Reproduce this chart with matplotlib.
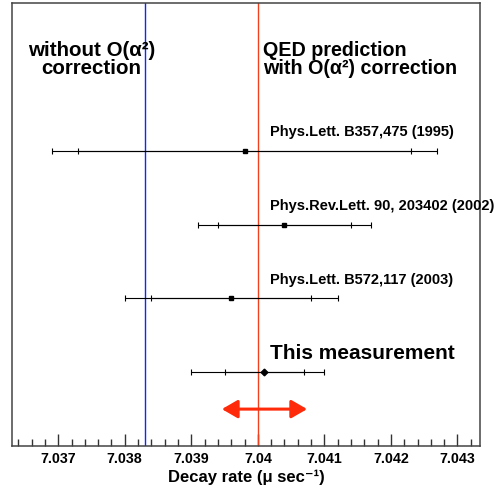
import matplotlib
matplotlib.use("Agg")
import matplotlib.pyplot as plt
from matplotlib.ticker import MultipleLocator

plt.rcParams['font.family'] = ['Liberation Sans', 'DejaVu Sans']

# Data
labels = ["Phys.Lett. B357,475 (1995)", "Phys.Rev.Lett. 90, 203402 (2002)",
          "Phys.Lett. B572,117 (2003)", "This measurement"]
values = [7.0398, 7.0404, 7.0396, 7.0401]
stat_err = [0.0025, 0.0010, 0.0012, 0.0006]
tot_err_lo = [0.0029, 0.0013, 0.0016, 0.0011]
tot_err_hi = [0.0029, 0.0013, 0.0016, 0.0009]
ypos = [4, 3, 2, 1]
markers = ['s', 's', 's', 'D']

no_corr = 7.0383      # without O(alpha^2) correction
qed_pred = 7.0400     # QED prediction with O(alpha^2)
goal_center = 7.0401
goal_half = 0.00064

tick_vals = [7.037, 7.038, 7.039, 7.040, 7.041, 7.042, 7.043]
tick_labels = ["7.037", "7.038", "7.039", "7.04", "7.041", "7.042", "7.043"]

fig = plt.figure(figsize=(5.03, 4.93), dpi=100)
ax = fig.add_axes([0.0239, 0.0953, 0.9304, 0.8986])
ax.set_xlim(7.036306, 7.043339)
ax.set_ylim(0, 6)

ax.axvline(no_corr, color='#0a28ff', lw=1.0)
ax.axvline(qed_pred, color='#f0401e', lw=1.0)

for v, y, s, lo, hi, m, lab in zip(values, ypos, stat_err, tot_err_lo, tot_err_hi, markers, labels):
    ax.errorbar([v], [y], xerr=[[lo], [hi]], fmt='none', ecolor='black',
                elinewidth=0.8, capsize=2.2, capthick=0.8)
    ax.errorbar([v], [y], xerr=[[s], [s]], fmt='none', ecolor='black',
                elinewidth=0.8, capsize=2.2, capthick=0.8)
    ax.plot([v], [y], marker=m, color='black', ms=3.4, ls='none')
    fs = 15 if lab == "This measurement" else 10.5
    ax.text(7.04018, y + 0.25, lab, fontsize=fs, fontweight='bold',
            ha='left', va='center', clip_on=False)

ax.annotate('', xy=(goal_center - goal_half, 0.5), xytext=(goal_center + goal_half, 0.5),
            arrowprops=dict(arrowstyle='<|-|>,head_length=0.95,head_width=0.55',
                            color='#ff2a0a', lw=2.2, mutation_scale=10,
                            shrinkA=0, shrinkB=0))

ax.text(7.0375, 5.23, "without O(α²)\ncorrection", fontsize=14.8,
        fontweight='bold', ha='center', va='center', linespacing=0.95)
ax.text(7.04008, 5.23, "QED prediction\nwith O(α²) correction", fontsize=14.2,
        fontweight='bold', ha='left', va='center', linespacing=0.95)

ax.set_xticks(tick_vals)
ax.set_xticklabels(tick_labels, fontsize=10.3, fontweight='bold')
ax.xaxis.set_minor_locator(MultipleLocator(0.0002))
ax.tick_params(axis='x', which='major', direction='in', length=9, width=1, color='#333333', pad=4)
ax.tick_params(axis='x', which='minor', direction='in', length=4.8, width=1, color='#333333')
ax.set_yticks([])
for sp in ax.spines.values():
    sp.set_color('#444444')
    sp.set_linewidth(1.1)
ax.set_xlabel("Decay rate (μ sec⁻¹)", fontsize=12, fontweight='bold', labelpad=3)

fig.savefig("out.png", dpi=100)
